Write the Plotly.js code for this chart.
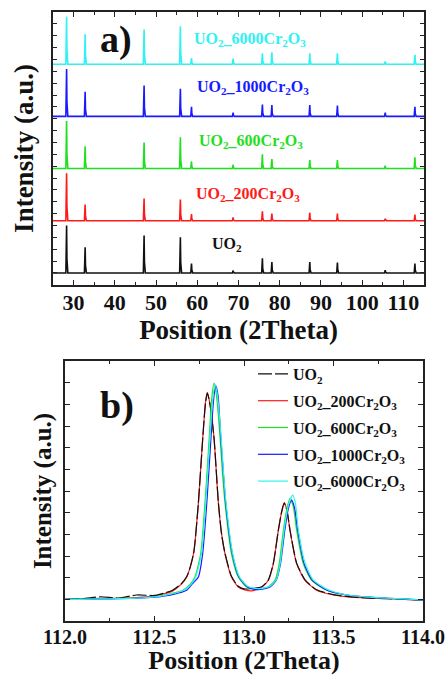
<!DOCTYPE html>
<html>
<head>
<meta charset="utf-8">
<script src="https://cdn.plot.ly/plotly-3.0.1.min.js"></script>
<style>html,body{margin:0;padding:0;background:#fff;}#chart{width:447px;height:675px;}</style>
</head>
<body>
<div id="chart"></div>
<script>
// ---------- Panel a: XRD peak positions (2Theta) and relative intensities ----------
const peakPos   = [28.3, 32.8, 47.1, 55.9, 58.6, 68.7, 75.8, 78.1, 87.3, 94.0, 105.6, 112.8];
const intUO2    = [1.00, 0.54, 0.79, 0.75, 0.20, 0.05, 0.31, 0.23, 0.23, 0.22, 0.06, 0.20];
const int200    = [1.00, 0.34, 0.47, 0.45, 0.14, 0.07, 0.20, 0.15, 0.17, 0.15, 0.04, 0.13];
const int600    = [1.00, 0.47, 0.55, 0.66, 0.15, 0.08, 0.30, 0.20, 0.18, 0.18, 0.06, 0.24];
const int1000   = [1.00, 0.52, 0.65, 0.58, 0.20, 0.08, 0.25, 0.24, 0.24, 0.23, 0.08, 0.20];
const int6000   = [1.00, 0.63, 0.73, 0.80, 0.13, 0.12, 0.23, 0.25, 0.23, 0.23, 0.06, 0.20];
const stackOffsets = [0, 1.1, 2.2, 3.3, 4.4];
const seriesNames = ['UO<sub>2</sub>', 'UO<sub>2</sub>_200Cr<sub>2</sub>O<sub>3</sub>',
  'UO<sub>2</sub>_600Cr<sub>2</sub>O<sub>3</sub>', 'UO<sub>2</sub>_1000Cr<sub>2</sub>O<sub>3</sub>',
  'UO<sub>2</sub>_6000Cr<sub>2</sub>O<sub>3</sub>'];
const seriesColors = ['#111111', '#ff1a1a', '#1ee01e', '#1a1aff', '#2ff2f2'];
const xRangeA = [25, 115];
const xTicksA = [30, 40, 50, 60, 70, 80, 90, 100, 110];

// ---------- Panel b: zoom on the (531) doublet, 112-114 deg ----------
const xUO2 = [112.0,112.1,112.2,112.3,112.4,112.5,112.55,112.6,112.65,112.68,112.7,112.72,112.745,112.77,112.785,112.795,112.81,112.832,112.857,112.875,112.894,112.93,112.968,113.0,113.05,113.1,113.136,113.164,113.192,113.212,113.225,113.24,113.257,113.294,113.341,113.406,113.5,113.6,113.7,113.8,113.9,114.0];
const yUO2 = [0.0,0.003,0.012,0.006,0.02,0.018,0.028,0.042,0.072,0.105,0.15,0.22,0.443,0.75,0.905,0.952,0.9,0.75,0.445,0.3,0.212,0.106,0.06,0.048,0.05,0.058,0.09,0.167,0.32,0.41,0.444,0.41,0.32,0.167,0.09,0.044,0.022,0.011,0.006,0.003,0.001,-0.004];
const x200 = [112.0,112.1,112.2,112.3,112.4,112.5,112.55,112.6,112.65,112.68,112.7,112.72,112.745,112.77,112.785,112.795,112.81,112.832,112.857,112.875,112.894,112.93,112.968,113.0,113.05,113.1,113.136,113.164,113.192,113.212,113.225,113.24,113.257,113.294,113.341,113.406,113.5,113.6,113.7,113.8,113.9,114.0];
const y200 = [0.0,0.002,0.004,0.005,0.008,0.016,0.025,0.038,0.07,0.103,0.15,0.22,0.443,0.75,0.91,0.955,0.9,0.75,0.443,0.3,0.21,0.103,0.057,0.045,0.04,0.057,0.088,0.165,0.319,0.41,0.446,0.41,0.319,0.165,0.088,0.042,0.02,0.01,0.006,0.003,0.0,-0.005];
const x600 = [112.0,112.1,112.2,112.3,112.4,112.5,112.55,112.6,112.66,112.7,112.726,112.758,112.782,112.806,112.82,112.832,112.845,112.866,112.88,112.894,112.93,112.968,113.015,113.06,113.1,113.136,113.173,113.197,113.22,113.24,113.257,113.275,113.294,113.331,113.378,113.462,113.574,113.7,113.8,113.9,114.0];
const y600 = [0.0,0.001,0.003,0.004,0.006,0.012,0.018,0.028,0.042,0.07,0.103,0.21,0.443,0.75,0.93,0.998,0.95,0.75,0.58,0.443,0.21,0.103,0.057,0.048,0.05,0.057,0.088,0.165,0.319,0.42,0.466,0.43,0.319,0.165,0.088,0.042,0.02,0.01,0.005,0.002,-0.003];
const x1000 = [112.0,112.1,112.2,112.3,112.4,112.5,112.55,112.6,112.68,112.71,112.745,112.769,112.792,112.816,112.83,112.842,112.855,112.87,112.885,112.898,112.935,112.972,113.02,113.07,113.11,113.145,113.18,113.204,113.228,113.248,113.266,113.283,113.3,113.336,113.382,113.465,113.574,113.7,113.8,113.9,114.0];
const y1000 = [0.0,0.0,0.002,0.003,0.005,0.01,0.015,0.022,0.042,0.07,0.103,0.21,0.443,0.75,0.92,0.986,0.94,0.75,0.58,0.443,0.21,0.103,0.057,0.045,0.048,0.057,0.088,0.165,0.319,0.42,0.458,0.42,0.319,0.165,0.088,0.042,0.02,0.01,0.005,0.001,-0.004];
const x6000 = [112.0,112.1,112.2,112.3,112.4,112.5,112.55,112.6,112.665,112.705,112.73,112.762,112.786,112.81,112.825,112.838,112.85,112.872,112.886,112.9,112.937,112.975,113.02,113.07,113.11,113.145,113.18,113.203,113.226,113.25,113.272,113.288,113.302,113.34,113.386,113.47,113.58,113.7,113.8,113.9,114.0];
const y6000 = [0.0,0.0,0.002,0.003,0.005,0.011,0.017,0.026,0.042,0.07,0.103,0.21,0.443,0.75,0.92,0.992,0.95,0.75,0.58,0.443,0.21,0.103,0.06,0.05,0.052,0.06,0.09,0.17,0.33,0.44,0.481,0.44,0.33,0.17,0.09,0.044,0.02,0.01,0.005,0.002,-0.003];
const xTicksB = [112.0, 112.5, 113.0, 113.5, 114.0];
const xTickTextB = ['112.0', '112.5', '113.0', '113.5', '114.0'];

// ---------- build panel-a stick profiles from the peak table ----------
function stickProfile(pos, inten, offset) {
  const xs = [xRangeA[0]], ys = [offset];
  for (let i = 0; i < pos.length; i++) {
    xs.push(pos[i] - 0.18, pos[i], pos[i] + 0.08, pos[i] + 0.3);
    ys.push(offset, offset + inten[i], offset + inten[i] * 0.3, offset);
  }
  xs.push(xRangeA[1]); ys.push(offset);
  return {x: xs, y: ys};
}
const intsA = [intUO2, int200, int600, int1000, int6000];
const traces = [];
intsA.forEach((arr, k) => {
  const p = stickProfile(peakPos, arr, stackOffsets[k]);
  traces.push({x: p.x, y: p.y, type: 'scatter', mode: 'lines', xaxis: 'x', yaxis: 'y',
    line: {color: seriesColors[k], width: 1.6}, showlegend: false, hoverinfo: 'skip'});
});
const xsB = [xUO2, x200, x600, x1000, x6000];
const ysB = [yUO2, y200, y600, y1000, y6000];
// draw order: red first, then black (long dashes) over it, then the others
const drawOrder = [1, 0, 2, 3, 4];
drawOrder.forEach((k) => {
  traces.push({x: xsB[k], y: ysB[k], type: 'scatter', mode: 'lines', xaxis: 'x2', yaxis: 'y2',
    name: seriesNames[k], legendgroup: 'g' + k, legendrank: k + 1,
    line: {color: seriesColors[k], width: 1.2, shape: 'spline', smoothing: 0.6,
           dash: k === 0 ? '14px,3px' : 'solid'}});
});

const W = 447, H = 675;
const px = (x) => x / W, py = (y) => 1 - y / H;
const FONT = 'Liberation Serif';
const axisCommon = {showline: true, mirror: 'ticks', linecolor: '#222', linewidth: 1.6,
  ticks: 'inside', tickcolor: '#222', showgrid: false, zeroline: false,
  tickfont: {family: FONT, size: 22, color: '#111', weight: 'bold'}};

const annotations = [
  {text: '<b>a)</b>', x: px(116), y: py(39), xref: 'paper', yref: 'paper', showarrow: false,
   xanchor: 'center', yanchor: 'middle', font: {family: FONT, size: 38, color: '#111'}},
  {text: '<b>b)</b>', x: px(117), y: py(405), xref: 'paper', yref: 'paper', showarrow: false,
   xanchor: 'center', yanchor: 'middle', font: {family: FONT, size: 38, color: '#111'}}
];
const labelPos = [[210, 245], [194, 195], [197, 142], [195, 88], [192, 40]];
seriesNames.forEach((n, k) => {
  annotations.push({text: '<b>' + n + '</b>', x: px(labelPos[k][0]), y: py(labelPos[k][1]),
    xref: 'paper', yref: 'paper', xanchor: 'left', yanchor: 'middle', showarrow: false,
    font: {family: FONT, size: 16, color: seriesColors[k] === '#111111' ? '#111' : seriesColors[k]}});
});

const layout = {
  width: W, height: H, margin: {l: 0, r: 0, t: 0, b: 0},
  paper_bgcolor: '#fff', plot_bgcolor: '#fff',
  font: {family: FONT, color: '#111', weight: 'bold'},
  showlegend: true,
  xaxis: Object.assign({}, axisCommon, {domain: [px(53), px(424)], anchor: 'y', range: xRangeA,
    tickvals: xTicksA, ticklen: 5, ticklabelstandoff: -3,
    minor: {dtick: 5, tick0: 25, ticks: 'inside', ticklen: 3, tickcolor: '#222'},
    title: {text: 'Position (2Theta)', font: {family: FONT, size: 27, weight: 'bold'}, standoff: 0}}),
  yaxis: Object.assign({}, axisCommon, {domain: [py(285), py(12)], anchor: 'x', range: [-0.254, 5.5],
    dtick: 0.25, tick0: 0, ticklen: 4, showticklabels: false,
    title: {text: 'Intensity (a.u.)', font: {family: FONT, size: 27, weight: 'bold'}, standoff: 10}}),
  xaxis2: Object.assign({}, axisCommon, {domain: [px(65), px(423)], anchor: 'y2', range: [112, 114],
    tickvals: xTicksB, ticktext: xTickTextB, ticklen: 5, ticklabelstandoff: -3,
    tickfont: {family: FONT, size: 20, color: '#111', weight: 'bold'},
    minor: {dtick: 0.25, tick0: 112, ticks: 'inside', ticklen: 3, tickcolor: '#222'},
    title: {text: 'Position (2Theta)', font: {family: FONT, size: 26, weight: 'bold'}, standoff: 2}}),
  yaxis2: Object.assign({}, axisCommon, {domain: [py(621), py(361)], anchor: 'x2', range: [-0.10, 1.10],
    dtick: 0.1, tick0: 0, ticklen: 5, showticklabels: false,
    title: {text: 'Intensity (a.u.)', font: {family: FONT, size: 25, weight: 'bold'}, standoff: 4}}),
  legend: {x: px(253), y: py(357), xanchor: 'left', yanchor: 'top', bgcolor: 'rgba(0,0,0,0)',
    traceorder: 'grouped', tracegroupgap: 3,
    font: {family: FONT, size: 16, color: '#111', weight: 'bold'}},
  annotations: annotations
};

Plotly.newPlot('chart', traces, layout, {displayModeBar: false, staticPlot: true});
</script>
</body>
</html>
